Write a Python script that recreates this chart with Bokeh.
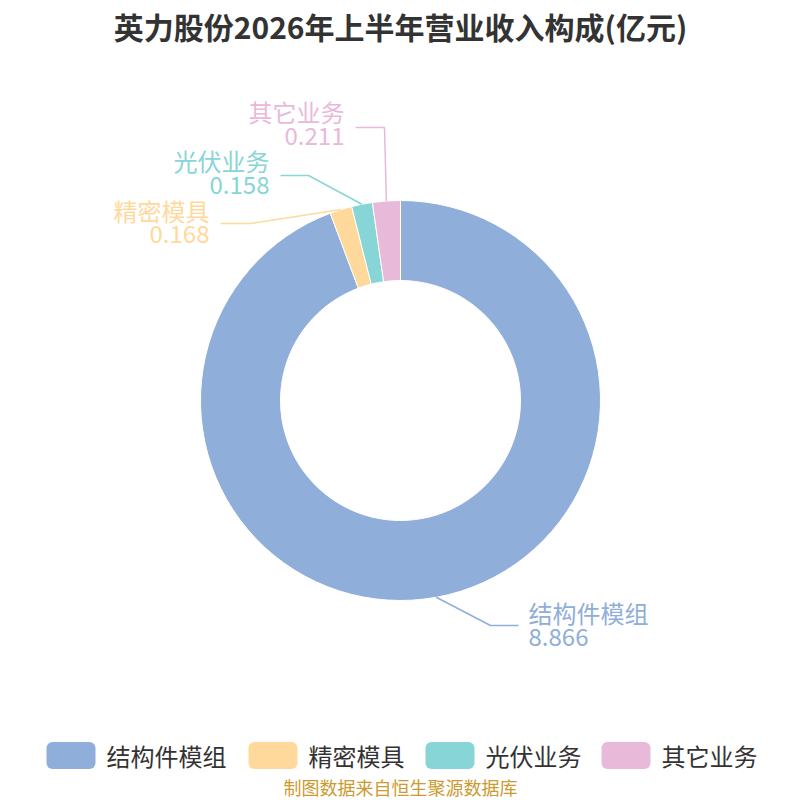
import math
from bokeh.plotting import figure
from bokeh.models import Range1d
from bokeh.core.properties import value
from bokeh.embed import file_html
from bokeh.resources import INLINE

# ---- data ----
title_text = "英力股份2026年上半年营业收入构成(亿元)"
categories = ["结构件模组", "精密模具", "光伏业务", "其它业务"]
values = [8.866, 0.168, 0.158, 0.211]
value_labels = ["8.866", "0.168", "0.158", "0.211"]
source_text = "制图数据来自恒生聚源数据库"

# ---- styles ----
colors = ["#8FAEDA", "#FFD99B", "#88D5D7", "#E8B9D9"]
FONT = "Noto Sans CJK SC"
W = H = 800

def Y(py):  # picture pixel y -> data y
    return H - py

p = figure(width=W, height=H, output_backend="svg", toolbar_location=None,
           x_range=Range1d(0, W), y_range=Range1d(0, H), min_border=0)
p.axis.visible = False
p.grid.visible = False
p.outline_line_color = None
p.background_fill_color = "white"

cx, cy = 400, Y(400)
r_out, r_in = 200, 120
total = sum(values)

starts, ends, mids = [], [], []
cum = 0.0
for v in values:
    a0 = math.pi / 2 - 2 * math.pi * cum / total
    cum += v
    a1 = math.pi / 2 - 2 * math.pi * cum / total
    starts.append(a0)
    ends.append(a1)
    mids.append((a0 + a1) / 2)

p.annular_wedge(x=cx, y=cy, inner_radius=r_in, outer_radius=r_out,
                start_angle=starts, end_angle=ends, direction="clock",
                fill_color=colors, line_color="white", line_width=1)

# leader lines: start at outer edge of each slice's mid angle
elbows = [(490, 625), (250, 223), (308, 175), (384, 127)]
line_ends = [(518, 625), (220, 223), (280, 175), (355, 127)]
xs, ys = [], []
for m, (ex, ey), (lx, ly) in zip(mids, elbows, line_ends):
    sx = cx + r_out * math.cos(m)
    sy = cy + r_out * math.sin(m)
    xs.append([sx, ex, lx])
    ys.append([sy, Y(ey), Y(ly)])
p.multi_line(xs=xs, ys=ys, line_color=colors, line_width=1.5)

# labels
label_x = [528, 209, 269, 344]
label_y_name = [612, 210, 160, 111]
label_y_val = [636, 233, 184, 135]
align = ["left", "right", "right", "right"]
for i in range(len(categories)):
    p.text(x=[label_x[i]], y=[Y(label_y_name[i])], text=[categories[i]],
           text_font=value(FONT), text_font_size="24px", text_color=colors[i],
           text_align=align[i], text_baseline="middle")
    p.text(x=[label_x[i]], y=[Y(label_y_val[i])], text=[value_labels[i]],
           text_font=value(FONT), text_font_size="24px", text_color=colors[i],
           text_align=align[i], text_baseline="middle")

# title
p.text(x=[400], y=[Y(25)], text=[title_text], text_font=value(FONT),
       text_font_size="30px", text_font_style="bold", text_color="#333333",
       text_align="center", text_baseline="middle")

# legend (manual)
sw_left = [46, 248, 425, 601]
sw_w, sw_h = 49, 27
leg_y = 755
p.quad(left=sw_left, right=[l + sw_w for l in sw_left],
       bottom=[Y(leg_y + sw_h / 2)] * 4, top=[Y(leg_y - sw_h / 2)] * 4,
       fill_color=colors, line_color=None, border_radius=6)
p.text(x=[l + sw_w + 11 for l in sw_left], y=[Y(leg_y)] * 4, text=categories,
       text_font=value(FONT), text_font_size="24px", text_color="#333333",
       text_align="left", text_baseline="middle")

# source
p.text(x=[400], y=[Y(786)], text=[source_text], text_font=value(FONT),
       text_font_size="18px", text_color="#CC9A2E",
       text_align="center", text_baseline="middle")

open("out.html", "w").write(file_html(p, INLINE))
